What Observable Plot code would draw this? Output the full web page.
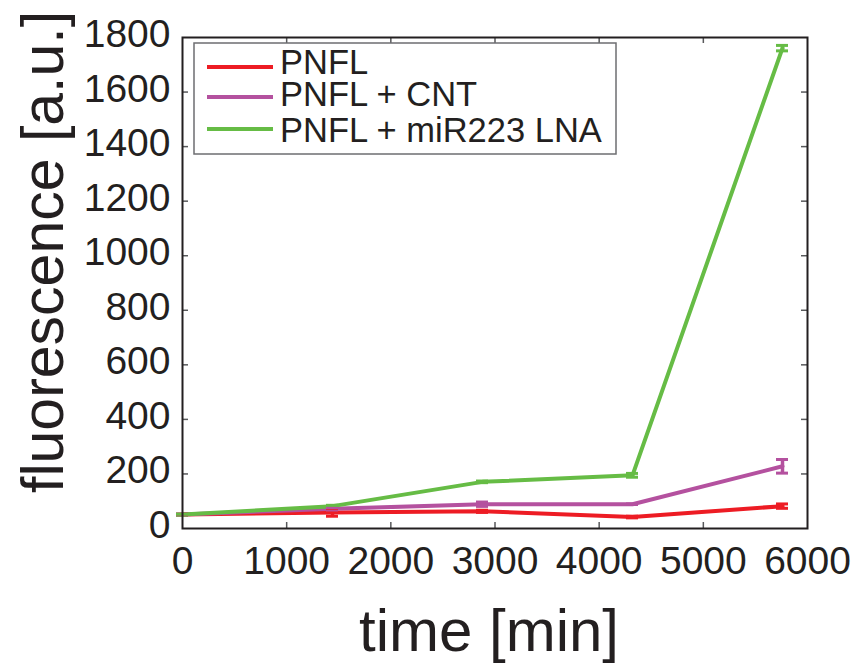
<!DOCTYPE html>
<html>
<head>
<meta charset="utf-8">
<script src="https://cdn.jsdelivr.net/npm/d3@7"></script>
<script src="https://cdn.jsdelivr.net/npm/@observablehq/plot@0.6"></script>
<style>
  html, body { margin: 0; padding: 0; background: #fff; }
  #wrap { position: relative; width: 860px; height: 666px; overflow: hidden; }
  #wrap svg { position: absolute; left: 0; top: 0; overflow: visible; }
</style>
</head>
<body>
<div id="wrap"></div>
<script>
// ---- data ----
const times = [0, 1440, 2880, 4320, 5760];           // minutes
const seriesNames = ["PNFL", "PNFL + CNT", "PNFL + miR223 LNA"];
const seriesColors = ["#ed1c24", "#b4519f", "#66bc45"];
const pnfl    = [51, 59, 63, 42, 82];
const pnflErr = [2, 14, 4, 3, 8];
const cnt     = [51, 72, 89, 89, 228];
const cntErr  = [2, 4, 8, 1, 25];
const lna     = [51, 82, 171, 195, 1761];
const lnaErr  = [2, 3, 3, 7, 10];
const xTicks = [0, 1000, 2000, 3000, 4000, 5000, 6000];
const yTicks = [0, 200, 400, 600, 800, 1000, 1200, 1400, 1600, 1800];
const xTitle = "time [min]";
const yTitle = "fluorescence [a.u.]";

// ---- build long table ----
const values = [pnfl, cnt, lna];
const errs = [pnflErr, cntErr, lnaErr];
const data = [];
seriesNames.forEach((s, i) => {
  times.forEach((t, j) => {
    data.push({series: s, t, v: values[i][j], lo: values[i][j] - errs[i][j], hi: values[i][j] + errs[i][j]});
  });
});

const W = 860, H = 666;
const mL = 182, mR = 53, mT = 37, mB = 138;
const innerW = W - mL - mR, innerH = H - mT - mB;
const ink = "#231f20";
const tickGray = "#58595b";
const innerX = xTicks.slice(1, -1);
const innerY = yTicks.slice(1, -1);

const chart = Plot.plot({
  width: W,
  height: H,
  marginLeft: mL,
  marginRight: mR,
  marginTop: mT,
  marginBottom: mB,
  style: {fontFamily: "'Liberation Sans', Arial, Helvetica, sans-serif", fontSize: "39px", color: ink, background: "transparent", overflow: "visible"},
  x: {domain: [0, 6000]},
  y: {domain: [0, 1800]},
  color: {domain: seriesNames, range: seriesColors},
  marks: [
    // inward ticks, MATLAB style
    Plot.tickX(innerX, {x: d => d, insetTop: innerH - 6, stroke: tickGray, strokeWidth: 1.5}),
    Plot.tickX(innerX, {x: d => d, insetBottom: innerH - 6, stroke: tickGray, strokeWidth: 1.5}),
    Plot.tickY(innerY, {y: d => d, insetRight: innerW - 6, stroke: tickGray, strokeWidth: 1.5}),
    Plot.tickY(innerY, {y: d => d, insetLeft: innerW - 6, stroke: tickGray, strokeWidth: 1.5}),
    Plot.axisX({ticks: xTicks, tickSize: 0, tickPadding: 18, label: null, tickFormat: d => String(d), fontSize: 39}),
    Plot.axisY({ticks: yTicks, tickSize: 0, tickPadding: 12, label: null, tickFormat: d => String(d), fontSize: 39, dy: -3}),
    // series lines
    Plot.line(data, {x: "t", y: "v", stroke: "series", z: "series", strokeWidth: 4, strokeLinejoin: "round"}),
    // error bars
    Plot.ruleX(data, {x: "t", y1: "lo", y2: "hi", stroke: "series", strokeWidth: 3.5}),
    Plot.ruleY(data, {y: "lo", x1: "t", x2: "t", insetLeft: -6, insetRight: -6, stroke: "series", strokeWidth: 3}),
    Plot.ruleY(data, {y: "hi", x1: "t", x2: "t", insetLeft: -6, insetRight: -6, stroke: "series", strokeWidth: 3}),
    Plot.frame({stroke: ink, strokeWidth: 2}),
    // axis titles
    Plot.text([xTitle], {frameAnchor: "bottom", text: d => d, fontSize: 60, dx: -6, dy: 103, lineAnchor: "middle", fill: ink}),
    Plot.text([yTitle], {frameAnchor: "left", text: d => d, fontSize: 59, rotate: -90, textAnchor: "start", lineAnchor: "middle", dx: -138, dy: 210, fill: ink})
  ]
});
document.getElementById("wrap").appendChild(chart);

// ---- legend (inside the axes, top-left) ----
const ns = "http://www.w3.org/2000/svg";
const leg = document.createElementNS(ns, "svg");
leg.setAttribute("width", W);
leg.setAttribute("height", H);
leg.setAttribute("font-family", "'Liberation Sans', Arial, Helvetica, sans-serif");
const box = document.createElementNS(ns, "rect");
box.setAttribute("x", 194); box.setAttribute("y", 43);
box.setAttribute("width", 422); box.setAttribute("height", 111);
box.setAttribute("fill", "#fff"); box.setAttribute("stroke", "#6d6e71"); box.setAttribute("stroke-width", 1.5);
leg.appendChild(box);
const lineYs = [67, 97, 129];
const baseYs = [74, 106, 142];
seriesNames.forEach((s, i) => {
  const l = document.createElementNS(ns, "line");
  l.setAttribute("x1", 207); l.setAttribute("x2", 273);
  l.setAttribute("y1", lineYs[i]); l.setAttribute("y2", lineYs[i]);
  l.setAttribute("stroke", seriesColors[i]); l.setAttribute("stroke-width", 4);
  leg.appendChild(l);
  const t = document.createElementNS(ns, "text");
  t.setAttribute("x", 280); t.setAttribute("y", baseYs[i]);
  t.setAttribute("font-size", 34.5); t.setAttribute("fill", ink);
  t.textContent = s;
  leg.appendChild(t);
});
document.getElementById("wrap").appendChild(leg);
</script>
</body>
</html>
